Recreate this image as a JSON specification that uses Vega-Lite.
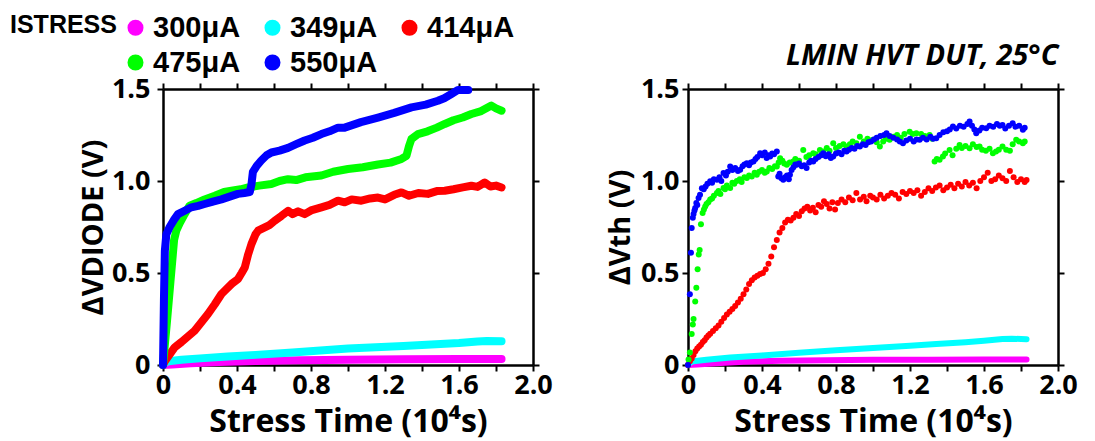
{
  "$schema": "https://vega.github.io/schema/vega-lite/v6.json",
  "padding": {"left": 10, "top": 13, "right": 5, "bottom": 2},
  "background": "white",
  "config": {
    "view": {"stroke": null},
    "axis": {"domainColor": "black", "domainWidth": 2.5, "tickColor": "black", "tickWidth": 2, "tickSize": 6, "grid": false,
      "labelFont": "Open Sans", "labelFontWeight": "bold", "labelFontSize": 27, "labelColor": "black",
      "titleFont": "Open Sans", "titleFontWeight": "bold", "titleColor": "black", "labelOverlap": false, "labelFlush": false}
  },
  "spacing": 53,
  "resolve": {"scale": {"color": "independent"}, "legend": {"color": "independent"}},
  "datasets": {
    "left": [
      {"s":"300μA","t":0,"v":0},{"s":"300μA","t":0.05,"v":0.003},{"s":"300μA","t":0.15,"v":0.009},{"s":"300μA","t":0.3,"v":0.016},{"s":"300μA","t":0.5,"v":0.022},{"s":"300μA","t":0.75,"v":0.026},{"s":"300μA","t":1.0,"v":0.029},{"s":"300μA","t":1.3,"v":0.031},{"s":"300μA","t":1.6,"v":0.032},{"s":"300μA","t":1.83,"v":0.033},
      {"s":"349μA","t":0,"v":0},{"s":"349μA","t":0.01,"v":0.012},{"s":"349μA","t":0.03,"v":0.02},{"s":"349μA","t":0.1,"v":0.028},{"s":"349μA","t":0.2,"v":0.036},{"s":"349μA","t":0.35,"v":0.046},{"s":"349μA","t":0.5,"v":0.055},{"s":"349μA","t":0.7,"v":0.068},{"s":"349μA","t":0.85,"v":0.079},{"s":"349μA","t":1.0,"v":0.09},{"s":"349μA","t":1.15,"v":0.097},{"s":"349μA","t":1.3,"v":0.103},{"s":"349μA","t":1.45,"v":0.111},{"s":"349μA","t":1.6,"v":0.119},{"s":"349μA","t":1.7,"v":0.128},{"s":"349μA","t":1.75,"v":0.131},{"s":"349μA","t":1.83,"v":0.129},
      {"s":"414μA","t":0,"v":0},{"s":"414μA","t":0.01,"v":0.02},{"s":"414μA","t":0.027,"v":0.045},{"s":"414μA","t":0.063,"v":0.096},{"s":"414μA","t":0.1,"v":0.125},{"s":"414μA","t":0.171,"v":0.186},{"s":"414μA","t":0.243,"v":0.277},{"s":"414μA","t":0.28,"v":0.33},{"s":"414μA","t":0.316,"v":0.386},{"s":"414μA","t":0.37,"v":0.44},{"s":"414μA","t":0.405,"v":0.467},{"s":"414μA","t":0.425,"v":0.5},{"s":"414μA","t":0.442,"v":0.53},{"s":"414μA","t":0.46,"v":0.6},{"s":"414μA","t":0.478,"v":0.657},{"s":"414μA","t":0.5,"v":0.71},{"s":"414μA","t":0.514,"v":0.73},{"s":"414μA","t":0.55,"v":0.748},{"s":"414μA","t":0.575,"v":0.76},{"s":"414μA","t":0.604,"v":0.784},{"s":"414μA","t":0.64,"v":0.81},{"s":"414μA","t":0.676,"v":0.838},{"s":"414μA","t":0.7,"v":0.82},{"s":"414μA","t":0.73,"v":0.835},{"s":"414μA","t":0.766,"v":0.82},{"s":"414μA","t":0.8,"v":0.84},{"s":"414μA","t":0.856,"v":0.857},{"s":"414μA","t":0.9,"v":0.87},{"s":"414μA","t":0.946,"v":0.893},{"s":"414μA","t":0.982,"v":0.884},{"s":"414μA","t":1.02,"v":0.9},{"s":"414μA","t":1.072,"v":0.893},{"s":"414μA","t":1.12,"v":0.905},{"s":"414μA","t":1.162,"v":0.91},{"s":"414μA","t":1.2,"v":0.9},{"s":"414μA","t":1.25,"v":0.925},{"s":"414μA","t":1.289,"v":0.938},{"s":"414μA","t":1.33,"v":0.92},{"s":"414μA","t":1.38,"v":0.935},{"s":"414μA","t":1.432,"v":0.93},{"s":"414μA","t":1.48,"v":0.945},{"s":"414μA","t":1.523,"v":0.947},{"s":"414μA","t":1.57,"v":0.955},{"s":"414μA","t":1.62,"v":0.965},{"s":"414μA","t":1.667,"v":0.974},{"s":"414μA","t":1.7,"v":0.968},{"s":"414μA","t":1.739,"v":0.992},{"s":"414μA","t":1.77,"v":0.97},{"s":"414μA","t":1.8,"v":0.975},{"s":"414μA","t":1.83,"v":0.965},
      {"s":"475μA","t":0,"v":0},{"s":"475μA","t":0.02,"v":0.22},{"s":"475μA","t":0.04,"v":0.45},{"s":"475μA","t":0.06,"v":0.68},{"s":"475μA","t":0.072,"v":0.73},{"s":"475μA","t":0.09,"v":0.77},{"s":"475μA","t":0.117,"v":0.82},{"s":"475μA","t":0.144,"v":0.866},{"s":"475μA","t":0.18,"v":0.88},{"s":"475μA","t":0.225,"v":0.9},{"s":"475μA","t":0.28,"v":0.92},{"s":"475μA","t":0.33,"v":0.94},{"s":"475μA","t":0.37,"v":0.947},{"s":"475μA","t":0.42,"v":0.955},{"s":"475μA","t":0.46,"v":0.965},{"s":"475μA","t":0.52,"v":0.975},{"s":"475μA","t":0.586,"v":0.984},{"s":"475μA","t":0.63,"v":1.0},{"s":"475μA","t":0.676,"v":1.01},{"s":"475μA","t":0.72,"v":1.005},{"s":"475μA","t":0.77,"v":1.02},{"s":"475μA","t":0.856,"v":1.03},{"s":"475μA","t":0.92,"v":1.05},{"s":"475μA","t":1.0,"v":1.065},{"s":"475μA","t":1.08,"v":1.075},{"s":"475μA","t":1.162,"v":1.09},{"s":"475μA","t":1.23,"v":1.1},{"s":"475μA","t":1.289,"v":1.12},{"s":"475μA","t":1.316,"v":1.137},{"s":"475μA","t":1.33,"v":1.19},{"s":"475μA","t":1.343,"v":1.228},{"s":"475μA","t":1.378,"v":1.255},{"s":"475μA","t":1.43,"v":1.27},{"s":"475μA","t":1.48,"v":1.29},{"s":"475μA","t":1.523,"v":1.31},{"s":"475μA","t":1.57,"v":1.33},{"s":"475μA","t":1.62,"v":1.345},{"s":"475μA","t":1.667,"v":1.364},{"s":"475μA","t":1.72,"v":1.38},{"s":"475μA","t":1.775,"v":1.41},{"s":"475μA","t":1.8,"v":1.395},{"s":"475μA","t":1.83,"v":1.382},
      {"s":"550μA","t":0,"v":0},{"s":"550μA","t":0.005,"v":0.35},{"s":"550μA","t":0.01,"v":0.62},{"s":"550μA","t":0.018,"v":0.71},{"s":"550μA","t":0.036,"v":0.75},{"s":"550μA","t":0.06,"v":0.79},{"s":"550μA","t":0.081,"v":0.82},{"s":"550μA","t":0.12,"v":0.84},{"s":"550μA","t":0.153,"v":0.857},{"s":"550μA","t":0.19,"v":0.865},{"s":"550μA","t":0.225,"v":0.875},{"s":"550μA","t":0.27,"v":0.888},{"s":"550μA","t":0.316,"v":0.9},{"s":"550μA","t":0.36,"v":0.915},{"s":"550μA","t":0.405,"v":0.93},{"s":"550μA","t":0.44,"v":0.935},{"s":"550μA","t":0.469,"v":0.94},{"s":"550μA","t":0.478,"v":0.98},{"s":"550μA","t":0.486,"v":1.05},{"s":"550μA","t":0.505,"v":1.08},{"s":"550μA","t":0.53,"v":1.11},{"s":"550μA","t":0.56,"v":1.14},{"s":"550μA","t":0.586,"v":1.155},{"s":"550μA","t":0.63,"v":1.165},{"s":"550μA","t":0.676,"v":1.18},{"s":"550μA","t":0.72,"v":1.2},{"s":"550μA","t":0.766,"v":1.22},{"s":"550μA","t":0.81,"v":1.235},{"s":"550μA","t":0.856,"v":1.255},{"s":"550μA","t":0.9,"v":1.27},{"s":"550μA","t":0.946,"v":1.29},{"s":"550μA","t":0.982,"v":1.29},{"s":"550μA","t":1.07,"v":1.32},{"s":"550μA","t":1.162,"v":1.345},{"s":"550μA","t":1.25,"v":1.37},{"s":"550μA","t":1.343,"v":1.4},{"s":"550μA","t":1.42,"v":1.415},{"s":"550μA","t":1.486,"v":1.436},{"s":"550μA","t":1.52,"v":1.45},{"s":"550μA","t":1.559,"v":1.473},{"s":"550μA","t":1.595,"v":1.495},{"s":"550μA","t":1.65,"v":1.495}
    ],
    "right": [
      {"s":"300μA","t":0,"v":0},{"s":"300μA","t":0.05,"v":0.003},{"s":"300μA","t":0.15,"v":0.009},{"s":"300μA","t":0.3,"v":0.018},{"s":"300μA","t":0.5,"v":0.023},{"s":"300μA","t":0.75,"v":0.026},{"s":"300μA","t":1.0,"v":0.028},{"s":"300μA","t":1.3,"v":0.029},{"s":"300μA","t":1.6,"v":0.03},{"s":"300μA","t":1.83,"v":0.03},
      {"s":"349μA","t":0,"v":0},{"s":"349μA","t":0.01,"v":0.012},{"s":"349μA","t":0.03,"v":0.02},{"s":"349μA","t":0.1,"v":0.028},{"s":"349μA","t":0.228,"v":0.041},{"s":"349μA","t":0.4,"v":0.052},{"s":"349μA","t":0.6,"v":0.066},{"s":"349μA","t":0.8,"v":0.08},{"s":"349μA","t":1.0,"v":0.093},{"s":"349μA","t":1.2,"v":0.105},{"s":"349μA","t":1.342,"v":0.114},{"s":"349μA","t":1.5,"v":0.124},{"s":"349μA","t":1.6,"v":0.132},{"s":"349μA","t":1.7,"v":0.141},{"s":"349μA","t":1.75,"v":0.143},{"s":"349μA","t":1.83,"v":0.14},
      {"s":"414μA","t":0,"v":0},{"s":"414μA","t":0.01,"v":0.02},{"s":"414μA","t":0.02,"v":0.035},{"s":"414μA","t":0.03,"v":0.055},{"s":"414μA","t":0.04,"v":0.075},{"s":"414μA","t":0.05,"v":0.09},{"s":"414μA","t":0.06,"v":0.1},{"s":"414μA","t":0.07,"v":0.11},{"s":"414μA","t":0.08,"v":0.125},{"s":"414μA","t":0.09,"v":0.135},{"s":"414μA","t":0.1,"v":0.15},{"s":"414μA","t":0.11,"v":0.16},{"s":"414μA","t":0.12,"v":0.17},{"s":"414μA","t":0.135,"v":0.185},{"s":"414μA","t":0.15,"v":0.2},{"s":"414μA","t":0.165,"v":0.215},{"s":"414μA","t":0.18,"v":0.235},{"s":"414μA","t":0.195,"v":0.255},{"s":"414μA","t":0.21,"v":0.275},{"s":"414μA","t":0.225,"v":0.29},{"s":"414μA","t":0.24,"v":0.305},{"s":"414μA","t":0.255,"v":0.32},{"s":"414μA","t":0.27,"v":0.34},{"s":"414μA","t":0.285,"v":0.36},{"s":"414μA","t":0.3,"v":0.385},{"s":"414μA","t":0.315,"v":0.41},{"s":"414μA","t":0.33,"v":0.44},{"s":"414μA","t":0.345,"v":0.46},{"s":"414μA","t":0.36,"v":0.475},{"s":"414μA","t":0.375,"v":0.485},{"s":"414μA","t":0.39,"v":0.495},{"s":"414μA","t":0.405,"v":0.5},{"s":"414μA","t":0.42,"v":0.52},{"s":"414μA","t":0.435,"v":0.55},{"s":"414μA","t":0.45,"v":0.59},{"s":"414μA","t":0.465,"v":0.64},{"s":"414μA","t":0.48,"v":0.68},{"s":"414μA","t":0.495,"v":0.72},{"s":"414μA","t":0.51,"v":0.745},{"s":"414μA","t":0.525,"v":0.775},{"s":"414μA","t":0.54,"v":0.79},{"s":"414μA","t":0.555,"v":0.785},{"s":"414μA","t":0.57,"v":0.8},{"s":"414μA","t":0.585,"v":0.82},{"s":"414μA","t":0.6,"v":0.81},{"s":"414μA","t":0.615,"v":0.835},{"s":"414μA","t":0.63,"v":0.85},{"s":"414μA","t":0.645,"v":0.86},{"s":"414μA","t":0.66,"v":0.84},{"s":"414μA","t":0.675,"v":0.855},{"s":"414μA","t":0.69,"v":0.83},{"s":"414μA","t":0.705,"v":0.87},{"s":"414μA","t":0.72,"v":0.86},{"s":"414μA","t":0.735,"v":0.89},{"s":"414μA","t":0.75,"v":0.875},{"s":"414μA","t":0.765,"v":0.85},{"s":"414μA","t":0.78,"v":0.885},{"s":"414μA","t":0.795,"v":0.845},{"s":"414μA","t":0.81,"v":0.88},{"s":"414μA","t":0.83,"v":0.9},{"s":"414μA","t":0.85,"v":0.885},{"s":"414μA","t":0.87,"v":0.91},{"s":"414μA","t":0.89,"v":0.895},{"s":"414μA","t":0.91,"v":0.935},{"s":"414μA","t":0.93,"v":0.9},{"s":"414μA","t":0.95,"v":0.915},{"s":"414μA","t":0.965,"v":0.89},{"s":"414μA","t":0.985,"v":0.92},{"s":"414μA","t":1.0,"v":0.91},{"s":"414μA","t":1.02,"v":0.9},{"s":"414μA","t":1.04,"v":0.925},{"s":"414μA","t":1.06,"v":0.905},{"s":"414μA","t":1.08,"v":0.92},{"s":"414μA","t":1.1,"v":0.935},{"s":"414μA","t":1.12,"v":0.925},{"s":"414μA","t":1.14,"v":0.905},{"s":"414μA","t":1.16,"v":0.94},{"s":"414μA","t":1.18,"v":0.93},{"s":"414μA","t":1.2,"v":0.945},{"s":"414μA","t":1.22,"v":0.935},{"s":"414μA","t":1.24,"v":0.95},{"s":"414μA","t":1.26,"v":0.92},{"s":"414μA","t":1.28,"v":0.94},{"s":"414μA","t":1.3,"v":0.96},{"s":"414μA","t":1.32,"v":0.945},{"s":"414μA","t":1.34,"v":0.965},{"s":"414μA","t":1.36,"v":0.975},{"s":"414μA","t":1.38,"v":0.95},{"s":"414μA","t":1.4,"v":0.965},{"s":"414μA","t":1.42,"v":0.98},{"s":"414μA","t":1.44,"v":0.96},{"s":"414μA","t":1.46,"v":0.985},{"s":"414μA","t":1.48,"v":0.97},{"s":"414μA","t":1.5,"v":0.995},{"s":"414μA","t":1.52,"v":0.975},{"s":"414μA","t":1.54,"v":0.99},{"s":"414μA","t":1.56,"v":0.96},{"s":"414μA","t":1.58,"v":1.0},{"s":"414μA","t":1.6,"v":1.02},{"s":"414μA","t":1.62,"v":1.045},{"s":"414μA","t":1.64,"v":1.0},{"s":"414μA","t":1.66,"v":1.01},{"s":"414μA","t":1.68,"v":1.03},{"s":"414μA","t":1.7,"v":1.015},{"s":"414μA","t":1.72,"v":1.0},{"s":"414μA","t":1.74,"v":1.055},{"s":"414μA","t":1.76,"v":1.02},{"s":"414μA","t":1.78,"v":0.995},{"s":"414μA","t":1.8,"v":1.01},{"s":"414μA","t":1.82,"v":0.995},{"s":"414μA","t":1.83,"v":1.005},
      {"s":"475μA","t":0.003,"v":0.03},{"s":"475μA","t":0.01,"v":0.068},{"s":"475μA","t":0.02,"v":0.168},{"s":"475μA","t":0.026,"v":0.22},{"s":"475μA","t":0.03,"v":0.25},{"s":"475μA","t":0.039,"v":0.345},{"s":"475μA","t":0.045,"v":0.42},{"s":"475μA","t":0.052,"v":0.52},{"s":"475μA","t":0.058,"v":0.6},{"s":"475μA","t":0.063,"v":0.625},{"s":"475μA","t":0.07,"v":0.765},{"s":"475μA","t":0.079,"v":0.826},{"s":"475μA","t":0.086,"v":0.845},{"s":"475μA","t":0.093,"v":0.862},{"s":"475μA","t":0.1,"v":0.875},{"s":"475μA","t":0.11,"v":0.885},{"s":"475μA","t":0.12,"v":0.9},{"s":"475μA","t":0.13,"v":0.905},{"s":"475μA","t":0.14,"v":0.92},{"s":"475μA","t":0.156,"v":0.935},{"s":"475μA","t":0.165,"v":0.945},{"s":"475μA","t":0.175,"v":0.93},{"s":"475μA","t":0.192,"v":0.962},{"s":"475μA","t":0.2,"v":0.955},{"s":"475μA","t":0.21,"v":0.975},{"s":"475μA","t":0.228,"v":0.962},{"s":"475μA","t":0.24,"v":0.99},{"s":"475μA","t":0.25,"v":0.985},{"s":"475μA","t":0.264,"v":1.0},{"s":"475μA","t":0.28,"v":1.01},{"s":"475μA","t":0.29,"v":0.995},{"s":"475μA","t":0.305,"v":1.02},{"s":"475μA","t":0.318,"v":1.016},{"s":"475μA","t":0.33,"v":1.03},{"s":"475μA","t":0.345,"v":1.025},{"s":"475μA","t":0.36,"v":1.045},{"s":"475μA","t":0.372,"v":1.034},{"s":"475μA","t":0.385,"v":1.05},{"s":"475μA","t":0.4,"v":1.06},{"s":"475μA","t":0.415,"v":1.045},{"s":"475μA","t":0.426,"v":1.052},{"s":"475μA","t":0.44,"v":1.07},{"s":"475μA","t":0.455,"v":1.065},{"s":"475μA","t":0.47,"v":1.08},{"s":"475μA","t":0.48,"v":1.079},{"s":"475μA","t":0.49,"v":1.1},{"s":"475μA","t":0.498,"v":1.124},{"s":"475μA","t":0.51,"v":1.11},{"s":"475μA","t":0.52,"v":1.095},{"s":"475μA","t":0.534,"v":1.088},{"s":"475μA","t":0.55,"v":1.1},{"s":"475μA","t":0.569,"v":1.106},{"s":"475μA","t":0.58,"v":1.12},{"s":"475μA","t":0.6,"v":1.11},{"s":"475μA","t":0.623,"v":1.169},{"s":"475μA","t":0.64,"v":1.13},{"s":"475μA","t":0.655,"v":1.14},{"s":"475μA","t":0.677,"v":1.151},{"s":"475μA","t":0.69,"v":1.145},{"s":"475μA","t":0.713,"v":1.169},{"s":"475μA","t":0.73,"v":1.16},{"s":"475μA","t":0.75,"v":1.18},{"s":"475μA","t":0.765,"v":1.165},{"s":"475μA","t":0.785,"v":1.205},{"s":"475μA","t":0.8,"v":1.18},{"s":"475μA","t":0.82,"v":1.19},{"s":"475μA","t":0.84,"v":1.2},{"s":"475μA","t":0.857,"v":1.187},{"s":"475μA","t":0.875,"v":1.2},{"s":"475μA","t":0.89,"v":1.215},{"s":"475μA","t":0.91,"v":1.205},{"s":"475μA","t":0.929,"v":1.241},{"s":"475μA","t":0.95,"v":1.215},{"s":"475μA","t":0.97,"v":1.23},{"s":"475μA","t":0.985,"v":1.22},{"s":"475μA","t":1.0,"v":1.224},{"s":"475μA","t":1.02,"v":1.21},{"s":"475μA","t":1.037,"v":1.187},{"s":"475μA","t":1.055,"v":1.215},{"s":"475μA","t":1.07,"v":1.23},{"s":"475μA","t":1.09,"v":1.224},{"s":"475μA","t":1.11,"v":1.24},{"s":"475μA","t":1.13,"v":1.25},{"s":"475μA","t":1.15,"v":1.235},{"s":"475μA","t":1.17,"v":1.255},{"s":"475μA","t":1.198,"v":1.268},{"s":"475μA","t":1.215,"v":1.255},{"s":"475μA","t":1.234,"v":1.26},{"s":"475μA","t":1.26,"v":1.255},{"s":"475μA","t":1.28,"v":1.245},{"s":"475μA","t":1.306,"v":1.25},{"s":"475μA","t":1.32,"v":1.23},{"s":"475μA","t":1.333,"v":1.106},{"s":"475μA","t":1.345,"v":1.12},{"s":"475μA","t":1.36,"v":1.115},{"s":"475μA","t":1.378,"v":1.133},{"s":"475μA","t":1.39,"v":1.15},{"s":"475μA","t":1.414,"v":1.169},{"s":"475μA","t":1.43,"v":1.14},{"s":"475μA","t":1.45,"v":1.175},{"s":"475μA","t":1.468,"v":1.196},{"s":"475μA","t":1.48,"v":1.18},{"s":"475μA","t":1.5,"v":1.19},{"s":"475μA","t":1.522,"v":1.178},{"s":"475μA","t":1.54,"v":1.2},{"s":"475μA","t":1.56,"v":1.185},{"s":"475μA","t":1.576,"v":1.187},{"s":"475μA","t":1.59,"v":1.17},{"s":"475μA","t":1.61,"v":1.165},{"s":"475μA","t":1.63,"v":1.175},{"s":"475μA","t":1.648,"v":1.151},{"s":"475μA","t":1.665,"v":1.16},{"s":"475μA","t":1.68,"v":1.17},{"s":"475μA","t":1.7,"v":1.187},{"s":"475μA","t":1.72,"v":1.17},{"s":"475μA","t":1.74,"v":1.165},{"s":"475μA","t":1.755,"v":1.2},{"s":"475μA","t":1.774,"v":1.224},{"s":"475μA","t":1.79,"v":1.215},{"s":"475μA","t":1.81,"v":1.205},{"s":"475μA","t":1.82,"v":1.215},
      {"s":"550μA","t":0,"v":0},{"s":"550μA","t":0.01,"v":0.384},{"s":"550μA","t":0.016,"v":0.61},{"s":"550μA","t":0.02,"v":0.745},{"s":"550μA","t":0.026,"v":0.8},{"s":"550μA","t":0.03,"v":0.82},{"s":"550μA","t":0.035,"v":0.84},{"s":"550μA","t":0.039,"v":0.853},{"s":"550μA","t":0.045,"v":0.88},{"s":"550μA","t":0.05,"v":0.87},{"s":"550μA","t":0.057,"v":0.907},{"s":"550μA","t":0.065,"v":0.925},{"s":"550μA","t":0.075,"v":0.96},{"s":"550μA","t":0.085,"v":0.955},{"s":"550μA","t":0.095,"v":0.97},{"s":"550μA","t":0.105,"v":0.985},{"s":"550μA","t":0.12,"v":0.998},{"s":"550μA","t":0.13,"v":0.99},{"s":"550μA","t":0.14,"v":1.01},{"s":"550μA","t":0.156,"v":1.007},{"s":"550μA","t":0.17,"v":1.02},{"s":"550μA","t":0.18,"v":1.0},{"s":"550μA","t":0.192,"v":1.043},{"s":"550μA","t":0.205,"v":1.03},{"s":"550μA","t":0.215,"v":1.05},{"s":"550μA","t":0.228,"v":1.079},{"s":"550μA","t":0.24,"v":1.06},{"s":"550μA","t":0.255,"v":1.07},{"s":"550μA","t":0.27,"v":1.055},{"s":"550μA","t":0.282,"v":1.061},{"s":"550μA","t":0.295,"v":1.08},{"s":"550μA","t":0.305,"v":1.09},{"s":"550μA","t":0.318,"v":1.097},{"s":"550μA","t":0.33,"v":1.085},{"s":"550μA","t":0.34,"v":1.1},{"s":"550μA","t":0.354,"v":1.106},{"s":"550μA","t":0.365,"v":1.12},{"s":"550μA","t":0.375,"v":1.13},{"s":"550μA","t":0.39,"v":1.151},{"s":"550μA","t":0.4,"v":1.14},{"s":"550μA","t":0.415,"v":1.155},{"s":"550μA","t":0.425,"v":1.125},{"s":"550μA","t":0.435,"v":1.14},{"s":"550μA","t":0.444,"v":1.133},{"s":"550μA","t":0.455,"v":1.15},{"s":"550μA","t":0.465,"v":1.145},{"s":"550μA","t":0.48,"v":1.16},{"s":"550μA","t":0.488,"v":1.025},{"s":"550μA","t":0.495,"v":1.04},{"s":"550μA","t":0.505,"v":1.015},{"s":"550μA","t":0.515,"v":1.007},{"s":"550μA","t":0.525,"v":1.02},{"s":"550μA","t":0.535,"v":1.03},{"s":"550μA","t":0.545,"v":1.01},{"s":"550μA","t":0.551,"v":1.034},{"s":"550μA","t":0.56,"v":1.06},{"s":"550μA","t":0.57,"v":1.075},{"s":"550μA","t":0.58,"v":1.09},{"s":"550μA","t":0.588,"v":1.088},{"s":"550μA","t":0.6,"v":1.095},{"s":"550μA","t":0.615,"v":1.08},{"s":"550μA","t":0.628,"v":1.085},{"s":"550μA","t":0.641,"v":1.07},{"s":"550μA","t":0.655,"v":1.1},{"s":"550μA","t":0.665,"v":1.11},{"s":"550μA","t":0.677,"v":1.106},{"s":"550μA","t":0.69,"v":1.12},{"s":"550μA","t":0.705,"v":1.13},{"s":"550μA","t":0.72,"v":1.14},{"s":"550μA","t":0.731,"v":1.151},{"s":"550μA","t":0.745,"v":1.135},{"s":"550μA","t":0.76,"v":1.145},{"s":"550μA","t":0.772,"v":1.125},{"s":"550μA","t":0.785,"v":1.133},{"s":"550μA","t":0.8,"v":1.15},{"s":"550μA","t":0.815,"v":1.155},{"s":"550μA","t":0.83,"v":1.145},{"s":"550μA","t":0.845,"v":1.165},{"s":"550μA","t":0.857,"v":1.16},{"s":"550μA","t":0.87,"v":1.17},{"s":"550μA","t":0.885,"v":1.18},{"s":"550μA","t":0.9,"v":1.175},{"s":"550μA","t":0.915,"v":1.19},{"s":"550μA","t":0.929,"v":1.187},{"s":"550μA","t":0.945,"v":1.2},{"s":"550μA","t":0.96,"v":1.195},{"s":"550μA","t":0.975,"v":1.21},{"s":"550μA","t":0.99,"v":1.214},{"s":"550μA","t":1.005,"v":1.225},{"s":"550μA","t":1.02,"v":1.235},{"s":"550μA","t":1.04,"v":1.245},{"s":"550μA","t":1.06,"v":1.25},{"s":"550μA","t":1.073,"v":1.26},{"s":"550μA","t":1.09,"v":1.245},{"s":"550μA","t":1.11,"v":1.235},{"s":"550μA","t":1.13,"v":1.225},{"s":"550μA","t":1.145,"v":1.215},{"s":"550μA","t":1.162,"v":1.205},{"s":"550μA","t":1.18,"v":1.22},{"s":"550μA","t":1.2,"v":1.23},{"s":"550μA","t":1.22,"v":1.215},{"s":"550μA","t":1.235,"v":1.225},{"s":"550μA","t":1.252,"v":1.224},{"s":"550μA","t":1.27,"v":1.235},{"s":"550μA","t":1.29,"v":1.225},{"s":"550μA","t":1.31,"v":1.24},{"s":"550μA","t":1.325,"v":1.23},{"s":"550μA","t":1.342,"v":1.232},{"s":"550μA","t":1.36,"v":1.25},{"s":"550μA","t":1.38,"v":1.265},{"s":"550μA","t":1.4,"v":1.27},{"s":"550μA","t":1.415,"v":1.28},{"s":"550μA","t":1.432,"v":1.296},{"s":"550μA","t":1.45,"v":1.285},{"s":"550μA","t":1.47,"v":1.3},{"s":"550μA","t":1.49,"v":1.295},{"s":"550μA","t":1.51,"v":1.31},{"s":"550μA","t":1.522,"v":1.323},{"s":"550μA","t":1.535,"v":1.3},{"s":"550μA","t":1.548,"v":1.28},{"s":"550μA","t":1.558,"v":1.26},{"s":"550μA","t":1.575,"v":1.275},{"s":"550μA","t":1.59,"v":1.29},{"s":"550μA","t":1.612,"v":1.287},{"s":"550μA","t":1.63,"v":1.3},{"s":"550μA","t":1.65,"v":1.295},{"s":"550μA","t":1.67,"v":1.31},{"s":"550μA","t":1.685,"v":1.3},{"s":"550μA","t":1.7,"v":1.305},{"s":"550μA","t":1.715,"v":1.285},{"s":"550μA","t":1.735,"v":1.3},{"s":"550μA","t":1.755,"v":1.314},{"s":"550μA","t":1.77,"v":1.295},{"s":"550μA","t":1.79,"v":1.3},{"s":"550μA","t":1.81,"v":1.278},{"s":"550μA","t":1.82,"v":1.29}
    ]
  },
  "hconcat": [
    {
      "width": 370, "height": 276,
      "data": {"name": "left"},
      "resolve": {"axis": {"x": "independent", "y": "independent"}},
      "layer": [
        {
          "transform": [{"filter": {"field": "s", "oneOf": ["300μA", "349μA", "414μA"]}}],
          "mark": {"type": "line", "strokeWidth": 8, "strokeCap": "round", "strokeJoin": "round"},
          "encoding": {
            "x": {"field": "t", "type": "quantitative", "scale": {"domain": [0, 2], "nice": false},
              "axis": {"orient": "bottom", "values": [0,0.2,0.4,0.6,0.8,1.0,1.2,1.4,1.6,1.8,2.0],
                "labelExpr": "round(datum.value*10) % 4 != 0 ? '' : (datum.value == 0 ? '0' : format(datum.value, '.1f'))",
                "title": "Stress Time (10⁴s)", "titleFontSize": 32, "labelPadding": 1, "titlePadding": 8}},
            "y": {"field": "v", "type": "quantitative", "scale": {"domain": [0, 1.5], "nice": false},
              "axis": {"orient": "left", "values": [0, 0.5, 1.0, 1.5],
                "labelExpr": "datum.value == 0 ? '0' : format(datum.value, '.1f')",
                "title": "ΔVDIODE (V)", "titleFontSize": 29, "labelPadding": 7, "titlePadding": 3}},
            "color": {"field": "s", "type": "nominal",
              "scale": {"domain": ["300μA", "349μA", "414μA", "475μA", "550μA"], "range": ["#ff00ff", "#00ffff", "#ff0000", "#00ff00", "#0000ff"]},
              "legend": {"title": "ISTRESS", "orient": "none", "legendX": -153, "legendY": -76, "direction": "horizontal", "columns": 3,
                "titleOrient": "left", "titleAnchor": "start", "titleBaseline": "top", "titleFont": "Liberation Sans", "titleFontSize": 25, "titleFontWeight": "bold", "titleColor": "black", "titlePadding": 4,
                "labelFont": "Liberation Sans", "labelFontSize": 29, "labelFontWeight": "bold", "labelColor": "black", "labelOffset": 3, "labelLimit": 300,
                "symbolType": "circle", "symbolSize": 64, "symbolStrokeWidth": 8, "symbolOpacity": 1, "columnPadding": 11, "rowPadding": -7}}
          }
        },
        {
          "transform": [{"filter": {"field": "s", "oneOf": ["475μA", "550μA"]}}],
          "mark": {"type": "line", "strokeWidth": 8, "strokeCap": "round", "strokeJoin": "round"},
          "encoding": {
            "x": {"field": "t", "type": "quantitative",
              "axis": {"orient": "top", "values": [0,0.2,0.4,0.6,0.8,1.0,1.2,1.4,1.6,1.8,2.0], "labels": false, "title": null}},
            "y": {"field": "v", "type": "quantitative",
              "axis": {"orient": "right", "values": [0, 0.5, 1.0, 1.5], "labels": false, "title": null}},
            "color": {"field": "s", "type": "nominal",
              "scale": {"domain": ["300μA", "349μA", "414μA", "475μA", "550μA"], "range": ["#ff00ff", "#00ffff", "#ff0000", "#00ff00", "#0000ff"]},
              "legend": {"title": "ISTRESS", "orient": "none", "legendX": -153, "legendY": -76, "direction": "horizontal", "columns": 3,
                "titleOrient": "left", "titleAnchor": "start", "titleBaseline": "top", "titleFont": "Liberation Sans", "titleFontSize": 25, "titleFontWeight": "bold", "titleColor": "black", "titlePadding": 4,
                "labelFont": "Liberation Sans", "labelFontSize": 29, "labelFontWeight": "bold", "labelColor": "black", "labelOffset": 3, "labelLimit": 300,
                "symbolType": "circle", "symbolSize": 64, "symbolStrokeWidth": 8, "symbolOpacity": 1, "columnPadding": 11, "rowPadding": -7}}
          }
        }
      ]
    },
    {
      "width": 370, "height": 276,
      "data": {"name": "right"},
      "resolve": {"axis": {"x": "independent", "y": "independent"}},
      "layer": [
        {
          "transform": [{"filter": {"field": "s", "oneOf": ["300μA", "349μA"]}}],
          "mark": {"type": "line", "strokeWidth": 6, "strokeCap": "round", "strokeJoin": "round"},
          "encoding": {
            "x": {"field": "t", "type": "quantitative", "scale": {"domain": [0, 2], "nice": false},
              "axis": {"orient": "bottom", "values": [0,0.2,0.4,0.6,0.8,1.0,1.2,1.4,1.6,1.8,2.0],
                "labelExpr": "round(datum.value*10) % 4 != 0 ? '' : (datum.value == 0 ? '0' : format(datum.value, '.1f'))",
                "title": "Stress Time (10⁴s)", "titleFontSize": 32, "labelPadding": 1, "titlePadding": 8}},
            "y": {"field": "v", "type": "quantitative", "scale": {"domain": [0, 1.5], "nice": false},
              "axis": {"orient": "left", "values": [0, 0.5, 1.0, 1.5],
                "labelExpr": "datum.value == 0 ? '0' : format(datum.value, '.1f')",
                "title": "ΔVth (V)", "titleFontSize": 29, "labelPadding": 3, "titlePadding": 5}},
            "color": {"field": "s", "type": "nominal",
              "scale": {"domain": ["300μA", "349μA", "414μA", "475μA", "550μA"], "range": ["#ff00ff", "#00ffff", "#ff0000", "#00ff00", "#0000ff"]},
              "legend": null}
          }
        },
        {
          "transform": [{"filter": {"field": "s", "oneOf": ["414μA", "475μA", "550μA"]}}],
          "mark": {"type": "point", "filled": true, "shape": "circle", "size": 36, "opacity": 1},
          "encoding": {
            "x": {"field": "t", "type": "quantitative",
              "axis": {"orient": "top", "values": [0,0.2,0.4,0.6,0.8,1.0,1.2,1.4,1.6,1.8,2.0], "labels": false,
                "title": "LMIN HVT DUT, 25°C", "titleFontSize": 29, "titleFontStyle": "italic", "titleAnchor": "end", "titlePadding": 12}},
            "y": {"field": "v", "type": "quantitative",
              "axis": {"orient": "right", "values": [0, 0.5, 1.0, 1.5], "labels": false, "title": null}},
            "color": {"field": "s", "type": "nominal",
              "scale": {"domain": ["300μA", "349μA", "414μA", "475μA", "550μA"], "range": ["#ff00ff", "#00ffff", "#ff0000", "#00ff00", "#0000ff"]},
              "legend": null}
          }
        }
      ]
    }
  ]
}
